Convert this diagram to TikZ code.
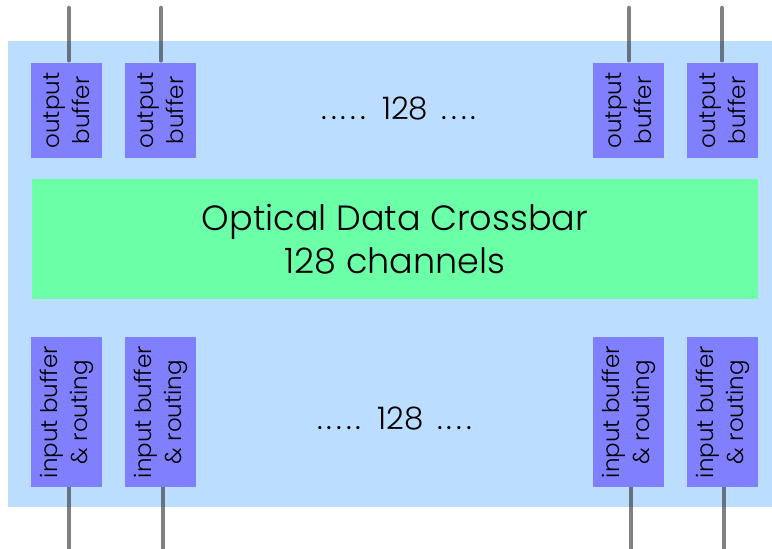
\documentclass[tikz,border=0pt]{standalone}
\usepackage{fontspec}
\setmainfont{Poppins}[UprightFont=* Light]
\usetikzlibrary{calc}
\definecolor{panelblue}{RGB}{187,221,255}
\definecolor{xbargreen}{RGB}{107,255,168}
\definecolor{bufviolet}{RGB}{128,128,255}
\definecolor{wiregray}{RGB}{45,45,45}
\newcommand{\dotgap}{\kern4pt}
\newcommand{\countgap}{\kern5pt}
\tikzset{
  x=1pt, y=1pt,
  panel/.style={fill=panelblue, draw=none},
  xbar/.style={fill=xbargreen, draw=none, inner sep=0pt, align=center,
    font=\fontsize{35}{43}\selectfont},
  bufbox/.style={fill=bufviolet, draw=none, inner sep=0pt},
  buflabel/.style={rotate=90, align=center, inner sep=0pt,
    font=\fontsize{23}{30}\selectfont},
  count/.style={inner sep=0pt, font=\fontsize{31}{32}\selectfont},
  wire/.style={draw=wiregray, draw opacity=0.6, line width=4.5pt, line cap=round}
}
\begin{document}
\begin{tikzpicture}
\useasboundingbox (0,0) rectangle (772,549);
% panel
\fill[panel] (8,42) rectangle (772,508);
% crossbar
\node[xbar, minimum width=726pt, minimum height=120pt] (xb) at (395,310)
  {Optical Data Crossbar\\128 channels};
% output buffers
\foreach \n/\l/\r in {o1/31/102, o2/125/196, o3/593/664, o4/687/758}{
  \node[bufbox, minimum width={\r-\l}, minimum height=95pt] (\n) at ({(\l+\r)/2},438.5) {};
  \node[buflabel] at (\n) {output\\buffer};
}
% input buffers
\foreach \n/\l/\r in {i1/31/102, i2/125/196, i3/593/664, i4/687/758}{
  \node[bufbox, minimum width={\r-\l}, minimum height=150pt] (\n) at ({(\l+\r)/2},137) {};
  \node[buflabel] at (\n) {input buffer\\\& routing};
}
% channel counts
\node[count, anchor=base] (ctop) at (399,429)
  {.\dotgap.\dotgap.\dotgap.\dotgap.\countgap{} 128 \countgap.\dotgap.\dotgap.\dotgap.};
\node[count, anchor=base] (cbot) at (394.5,119)
  {.\dotgap.\dotgap.\dotgap.\dotgap.\countgap{} 128 \countgap.\dotgap.\dotgap.\dotgap.};
% external wires
\foreach \n/\x in {o1/69, o2/161, o3/629, o4/722}{
  \coordinate (t\n) at (\x,541);
  \draw[wire] (t\n) -- ($(\n.north -| t\n)+(0,2.5)$);
}
\foreach \n/\x in {i1/69, i2/163, i3/631, i4/724}{
  \coordinate (b\n) at (\x,0);
  \draw[wire, line cap=butt] (b\n) -- (\n.south -| b\n);
}
\end{tikzpicture}
\end{document}
